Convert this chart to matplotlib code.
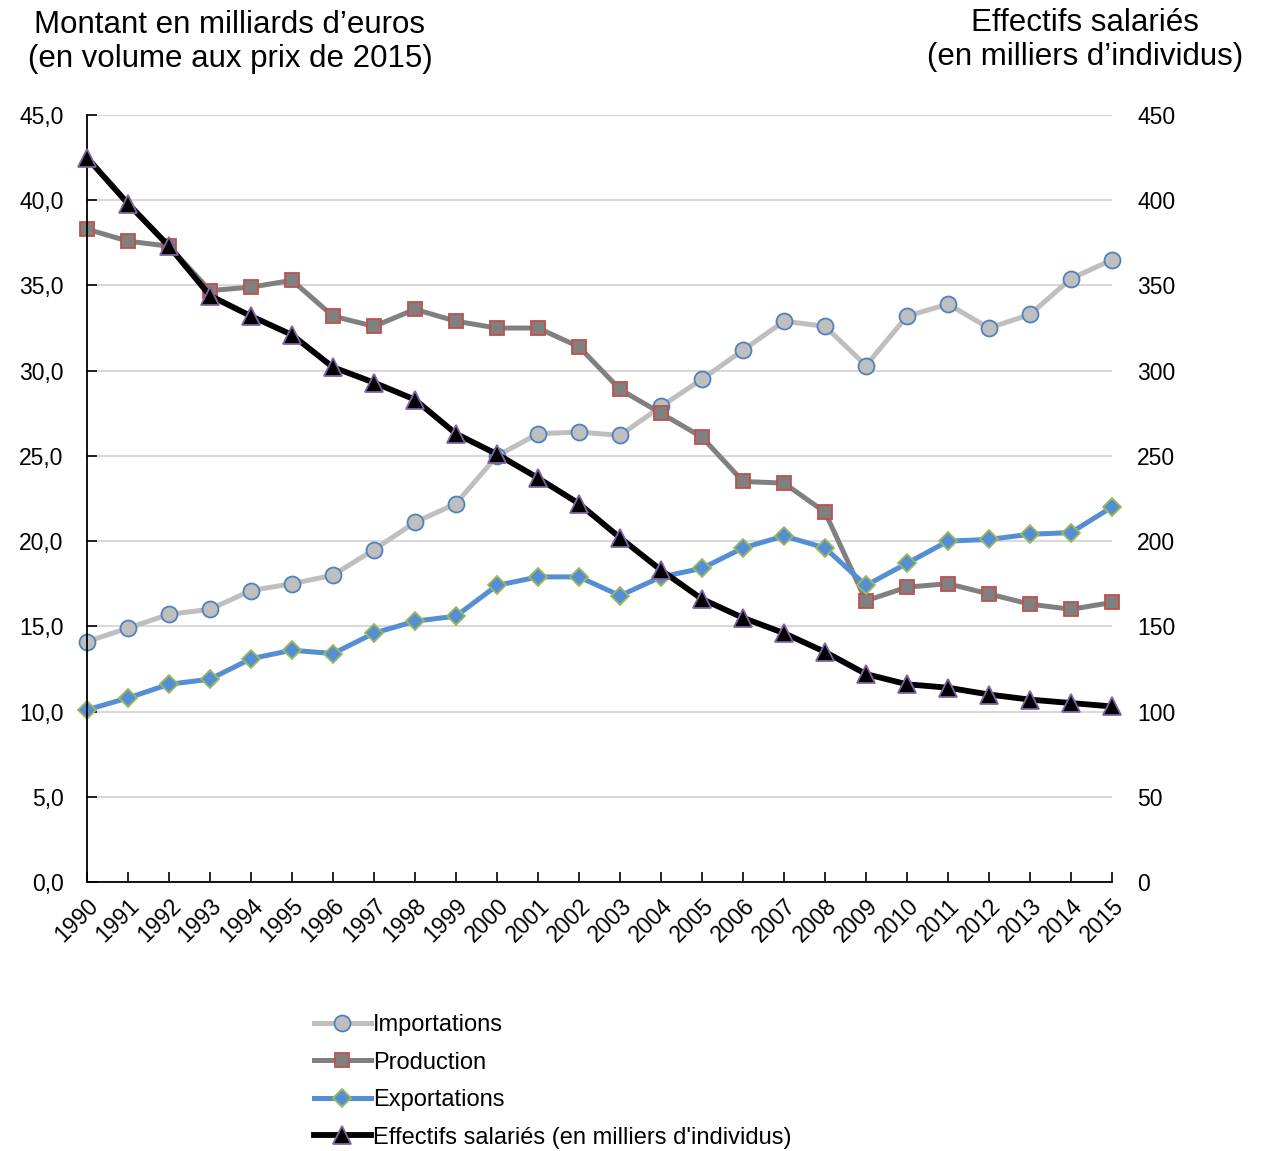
import matplotlib
matplotlib.use('Agg')
import matplotlib.pyplot as plt

plt.rcParams['font.family'] = ['Liberation Sans', 'DejaVu Sans']

annees = list(range(1990, 2016))
importations = [14.1, 14.9, 15.7, 16.0, 17.1, 17.5, 18.0, 19.5, 21.1, 22.2, 25.0, 26.3, 26.4,
                26.2, 27.9, 29.5, 31.2, 32.9, 32.6, 30.3, 33.2, 33.9, 32.5, 33.3, 35.4, 36.5]
production = [38.3, 37.6, 37.3, 34.7, 34.9, 35.3, 33.2, 32.6, 33.6, 32.9, 32.5, 32.5, 31.4,
              28.9, 27.5, 26.1, 23.5, 23.4, 21.7, 16.5, 17.3, 17.5, 16.9, 16.3, 16.0, 16.4]
exportations = [10.1, 10.8, 11.6, 11.9, 13.1, 13.6, 13.4, 14.6, 15.3, 15.6, 17.4, 17.9, 17.9,
                16.8, 17.9, 18.4, 19.6, 20.3, 19.6, 17.4, 18.7, 20.0, 20.1, 20.4, 20.5, 22.0]
effectifs = [425, 398, 373, 344, 332, 321, 302, 293, 283, 263, 251, 237, 222,
             202, 183, 166, 155, 146, 135, 122, 116, 114, 110, 107, 105, 103]

fig = plt.figure(figsize=(12.64, 11.51), dpi=100)
ax = fig.add_axes([87 / 1264, 1 - 882 / 1151, (1112 - 87) / 1264, (882 - 115) / 1151])
ax2 = ax.twinx()

l1, = ax.plot(annees, importations, color='#BFBFBF', lw=3.6, marker='o', ms=11.5,
              mfc='#BFBFBF', mec='#4F81BD', mew=1.3, label='Importations', clip_on=False)
l2, = ax.plot(annees, production, color='#808080', lw=3.6, marker='s', ms=10.5,
              mfc='#808080', mec='#C0504D', mew=1.3, label='Production', clip_on=False)
l3, = ax.plot(annees, exportations, color='#558ED5', lw=3.6, marker='D', ms=9.5,
              mfc='#558ED5', mec='#9BBB59', mew=1.3, label='Exportations', clip_on=False)
l4, = ax2.plot(annees, effectifs, color='black', lw=4.2, marker='^', ms=13.5,
               mfc='black', mec='#8064A2', mew=1.3,
               label="Effectifs salariés (en milliers d'individus)", clip_on=False)

ax.set_xlim(1990, 2015)
ax.set_ylim(0, 45)
ax2.set_ylim(0, 450)
ax.set_yticks([i * 5 for i in range(10)])
ax.set_yticklabels([f'{i * 5},0' for i in range(10)])
ax2.set_yticks([i * 50 for i in range(10)])
ax.set_xticks(annees)
ax.set_xticklabels([str(a) for a in annees], rotation=45, ha='right', rotation_mode='anchor')

ax.grid(axis='y', color='#D9D9D9', lw=1.5)
ax.set_axisbelow(True)
for s in ['top', 'right']:
    ax.spines[s].set_visible(False)
for s in ['top', 'right', 'left', 'bottom']:
    ax2.spines[s].set_visible(False)
ax.spines['left'].set_linewidth(1.3)
ax.spines['bottom'].set_linewidth(1.3)
ax.tick_params(axis='both', direction='in', length=7, width=1.2, labelsize=16.5)
ax.tick_params(axis='y', pad=17)
ax.tick_params(axis='x', pad=9)
ax2.tick_params(axis='y', length=0, labelsize=16.5, pad=18)

fig.text(230 / 1264, 1 - 42 / 1151, "Montant en milliards d’euros\n(en volume aux prix de 2015)",
         ha='center', va='center', fontsize=22.5, linespacing=1.2)
fig.text(1085 / 1264, 1 - 40 / 1151, "Effectifs salariés\n(en milliers d’individus)",
         ha='center', va='center', fontsize=22.5, linespacing=1.2)

fig.legend(handles=[l1, l2, l3, l4], loc='upper left', bbox_to_anchor=(314 / 1264, 1 - 1014 / 1151),
           frameon=False, fontsize=17, handlelength=2.4, handletextpad=0.1,
           labelspacing=0.66, borderpad=0, borderaxespad=0)

fig.savefig('out.png', dpi=100)
